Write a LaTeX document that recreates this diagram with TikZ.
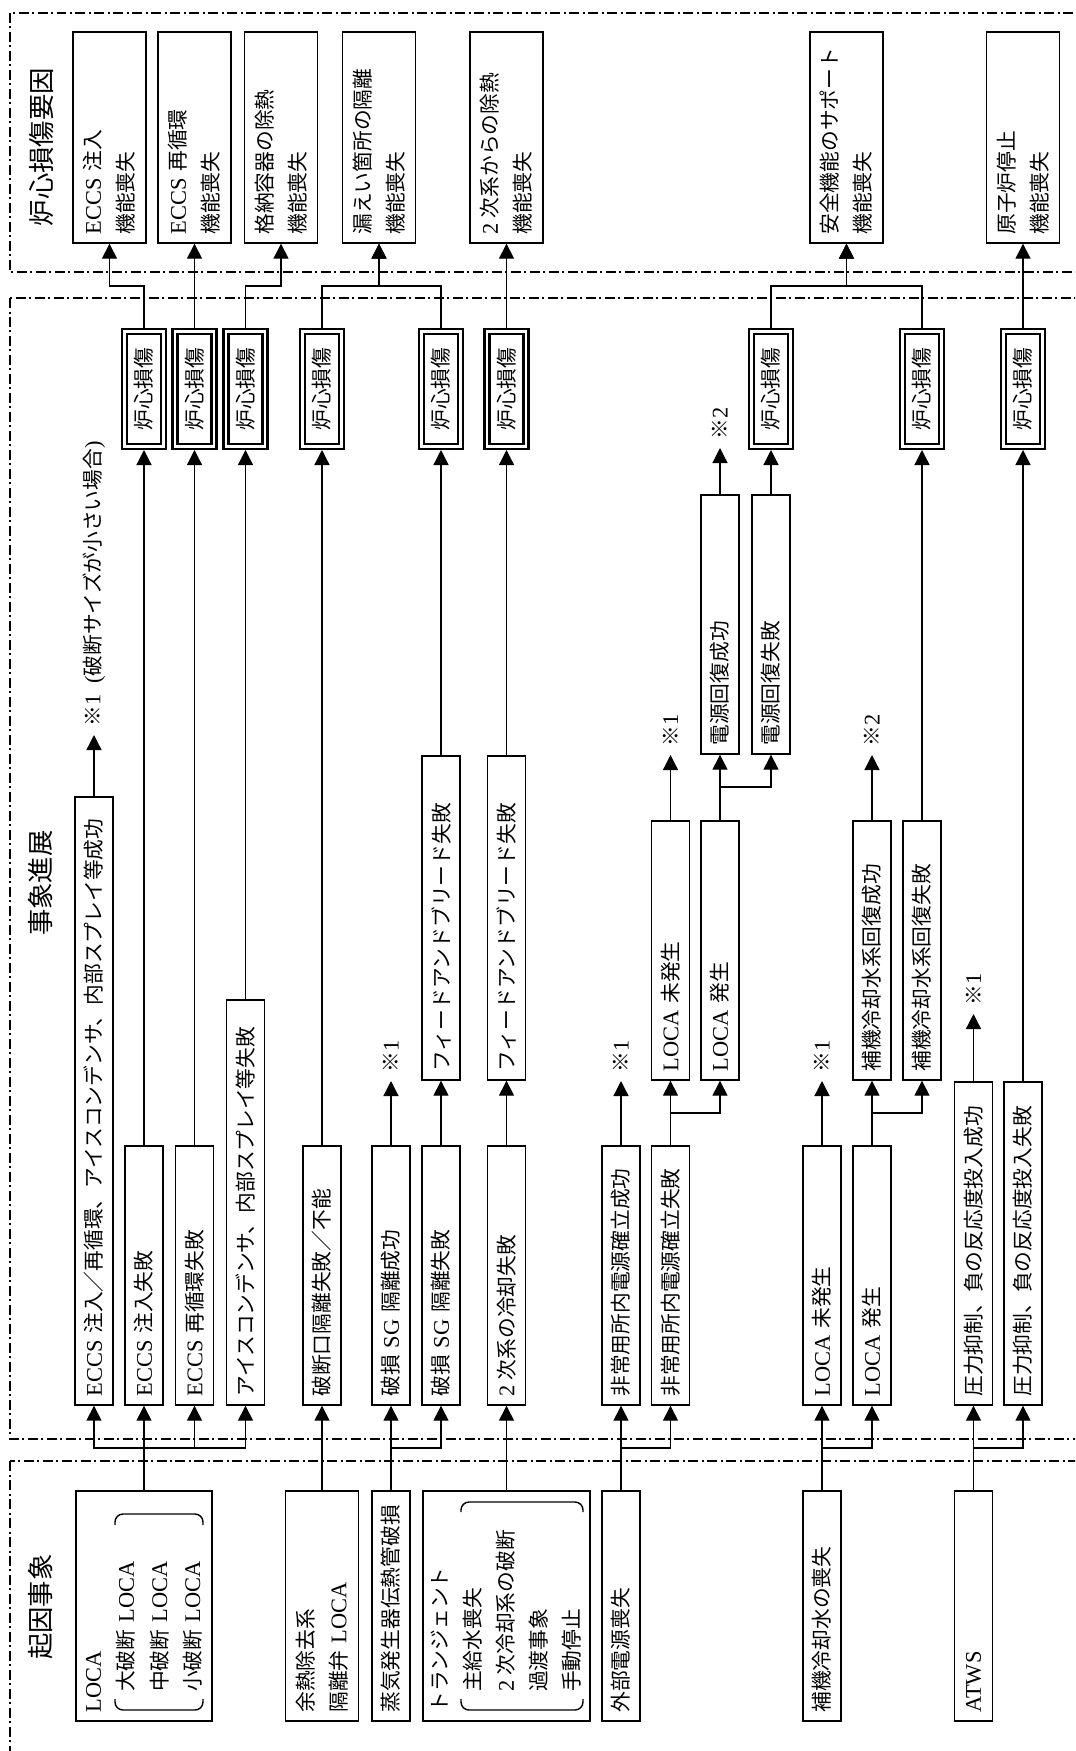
\documentclass[tikz,border=0pt]{standalone}
\usepackage{fontspec}
\setmainfont{Noto Sans CJK JP}
\newfontfamily\latfont[Scale=1.08]{Liberation Serif}
\usetikzlibrary{arrows.meta}
\newcommand{\eng}[1]{{\latfont #1}}
\newcommand{\digit}[1]{{\latfont #1}\kern0.25em}
\newcommand{\evfont}{\fontsize{11.8pt}{18.8pt}\selectfont}
\newcommand{\hdfont}{\fontsize{15pt}{18pt}\selectfont}

\begin{document}
\begin{tikzpicture}[x=0.02cm,y=-0.02cm,>={Triangle[length=0.3cm,width=0.3cm]},
  ev/.style={draw,line width=0.8pt,rotate=90,inner xsep=0.17cm,inner ysep=0pt,
    minimum height=0.76cm,align=left,font=\evfont},
  wide/.style={ev,minimum height=1.46cm},
  core/.style={draw,double,line width=1.3pt,double distance=1.4pt,rotate=90,
    minimum width=2.3cm,minimum height=0.78cm,inner sep=0pt,outer sep=2pt,font=\evfont},
  note/.style={rotate=90,anchor=west,inner xsep=0.18cm,inner ysep=0pt,outer sep=0pt,font=\evfont},
  hdr/.style={rotate=90,font=\hdfont},
  zone/.style={line width=0.7pt,dash pattern=on 0.2cm off 0.07cm on 0.04cm off 0.07cm},
  paren/.style={line width=0.8pt,rounded corners=0.16cm},
  link/.style={line width=0.75pt}]
  \useasboundingbox (0,0) rectangle (1075,1751);
  \clip (0,0) rectangle (1075,1751);

  % frames and headings
  \draw[zone] (10,13) rectangle (1090,272);
  \draw[zone] (10,298) rectangle (1090,1439);
  \draw[zone] (10,1461) rectangle (1090,1770);
  \node[hdr] (h1) at (42,147) {炉心損傷要因};
  \node[hdr] (h2) at (40,883) {事象進展};
  \node[hdr] (h3) at (41,1607) {起因事象};

  % core damage causes
  \node[wide,text width=3.88cm] (t1) at (109.5,137.5) {\eng{ECCS}~注入\\機能喪失};
  \node[wide,text width=3.88cm] (t2) at (194.5,137.5) {\eng{ECCS}~再循環\\機能喪失};
  \node[wide,text width=3.88cm] (t3) at (281,137.5) {格納容器の除熱\\機能喪失};
  \node[wide,text width=3.88cm] (t4) at (379,137.5) {漏えい箇所の隔離\\機能喪失};
  \node[wide,text width=3.88cm] (t5) at (506.5,137.5) {\digit{2}次系からの除熱\\機能喪失};
  \node[wide,text width=3.88cm] (t6) at (846.5,137.5) {安全機能のサポート\\機能喪失};
  \node[wide,text width=3.88cm] (t7) at (1023,137.5) {原子炉停止\\機能喪失};

  \foreach \n/\x in {d1/144, d2/194.5, d3/245.5, d4/322, d5/441, d6/506.5, d7/771, d8/922, d9/1023}
    \node[core] (\n) at (\x,389) {炉心損傷};

  % event progression
  \node[ev,text width=11.82cm] (b1) at (94,1101) {\eng{ECCS}~注入／再循環、アイスコンデンサ、内部スプレイ等成功};
  \node[ev,text width=4.84cm] (b2) at (144,1275.5) {\eng{ECCS}~注入失敗};
  \node[ev,text width=4.84cm] (b3) at (194.5,1275.5) {\eng{ECCS}~再循環失敗};
  \node[ev,text width=7.76cm] (b4) at (245.5,1202.5) {アイスコンデンサ、内部スプレイ等失敗};
  \node[ev,text width=4.84cm] (b5) at (322,1275.5) {破断口隔離失敗／不能};
  \node[ev,text width=4.84cm] (b6) at (391,1275.5) {破損~\eng{SG}~隔離成功};
  \node[ev,text width=4.84cm] (b7) at (441,1275.5) {破損~\eng{SG}~隔離失敗};
  \node[ev,text width=6.14cm] (b8) at (441,918) {フィードアンドブリード失敗};
  \node[ev,text width=4.84cm] (b9) at (506.5,1275.5) {\digit{2}次系の冷却失敗};
  \node[ev,text width=6.14cm] (b10) at (506.5,918) {フィードアンドブリード失敗};
  \node[ev,text width=4.84cm] (b11) at (621,1275.5) {非常用所内電源確立成功};
  \node[ev,text width=4.84cm] (b12) at (670.5,1275.5) {非常用所内電源確立失敗};
  \node[ev,text width=4.84cm] (b13) at (670.5,950.5) {\eng{LOCA}~未発生};
  \node[ev,text width=4.84cm] (b14) at (720,950.5) {\eng{LOCA}~発生};
  \node[ev,text width=4.84cm] (b21) at (720,624.5) {電源回復成功};
  \node[ev,text width=4.84cm] (b22) at (771,624.5) {電源回復失敗};
  \node[ev,text width=4.84cm] (b15) at (822,1275.5) {\eng{LOCA}~未発生};
  \node[ev,text width=4.84cm] (b16) at (872,1275.5) {\eng{LOCA}~発生};
  \node[ev,text width=4.84cm] (b17) at (872,950.5) {補機冷却水系回復成功};
  \node[ev,text width=4.84cm] (b18) at (922,950.5) {補機冷却水系回復失敗};
  \node[ev,text width=6.12cm] (b19) at (973.5,1243.5) {圧力抑制、負の反応度投入成功};
  \node[ev,text width=6.12cm] (b20) at (1023,1243.5) {圧力抑制、負の反応度投入失敗};

  \node[note] (n1) at (94,735) {※\eng{1}\enspace\eng{(}破断サイズが小さい場合\eng{)}};
  \node[note] (n2) at (391,1081) {※\eng{1}};
  \node[note] (n3) at (621,1081) {※\eng{1}};
  \node[note] (n4) at (670.5,755) {※\eng{1}};
  \node[note] (n5) at (720,448) {※\eng{2}};
  \node[note] (n6) at (822,1081) {※\eng{1}};
  \node[note] (n7) at (872,755) {※\eng{2}};
  \node[note] (n8) at (973.5,1014) {※\eng{1}};

  % initiating events
  \node[ev,minimum height=2.72cm,text width=4.26cm] (i1) at (144,1606)
    {\eng{LOCA}\\\hspace*{1em}大破断~\eng{LOCA}\\\hspace*{1em}中破断~\eng{LOCA}\\\hspace*{1em}小破断~\eng{LOCA}};
  \node[ev,minimum height=1.46cm,text width=4.26cm] (i2) at (322,1606) {余熱除去系\\隔離弁~\eng{LOCA}};
  \node[ev,text width=4.26cm] (i3) at (391,1606) {蒸気発生器伝熱管破損};
  \node[ev,minimum height=3.34cm,text width=4.26cm] (i4) at (506.5,1606)
    {トランジェント\\\hspace*{1em}主給水喪失\\\hspace*{1em}\digit{2}次冷却系の破断\\\hspace*{1em}過渡事象\\\hspace*{1em}手動停止};
  \node[ev,text width=4.26cm] (i5) at (621,1606) {外部電源喪失};
  \node[ev,text width=4.26cm] (i6) at (822,1606) {補機冷却水の喪失};
  \node[ev,text width=4.26cm] (i7) at (973.5,1606) {\eng{ATWS}};

  \draw[paren] (115,1525) -- (115,1514) -- (203,1514) -- (203,1525);
  \draw[paren] (115,1699) -- (115,1710) -- (203,1710) -- (203,1699);
  \draw[paren] (461,1512) -- (461,1502) -- (583,1502) -- (583,1512);
  \draw[paren] (461,1699) -- (461,1710) -- (583,1710) -- (583,1699);

  % branches from initiating events
  \foreach \s/\x in {i1/144, i3/391, i5/621, i6/822, i7/973.5}
    \draw[link] (\s.east) -- (\x,1448);
  \foreach \x/\t in {144/b1, 144/b2, 144/b3, 144/b4, 391/b6, 391/b7, 621/b11, 621/b12, 822/b15, 822/b16, 973.5/b19, 973.5/b20}
    \draw[link,->] (\x,1448) -| (\t.west);
  \draw[link,->] (i2.east) -- (b5.west);
  \draw[link,->] (i4.east) -- (b9.west);

  % progression
  \foreach \a/\b in {b1/n1, b2/d1, b3/d2, b4/d3, b5/d4, b6/n2, b7/b8, b8/d5, b9/b10, b10/d6,
      b11/n3, b13/n4, b21/n5, b22/d7, b15/n6, b17/n7, b18/d8, b19/n8, b20/d9}
    \draw[link,->] (\a.east) -- (\b.west);
  \coordinate (j6) at (670.5,1113);
  \coordinate (j7) at (720,787);
  \coordinate (j8) at (872,1113);
  \draw[link] (b12.east) -- (j6);
  \draw[link] (b14.east) -- (j7);
  \draw[link] (b16.east) -- (j8);
  \foreach \j/\t in {j6/b13, j6/b14, j7/b21, j7/b22, j8/b17, j8/b18}
    \draw[link,->] (\j) -| (\t.west);

  % core damage to causes
  \foreach \d/\t in {d1/t1, d3/t3, d4/t4, d5/t4, d7/t6, d8/t6}
    \draw[link,->] (\d.east) -- ++(0,-42) -| (\t.west);
  \foreach \d/\t in {d2/t2, d6/t5, d9/t7}
    \draw[link,->] (\d.east) -- (\t.west);
\end{tikzpicture}
\end{document}
